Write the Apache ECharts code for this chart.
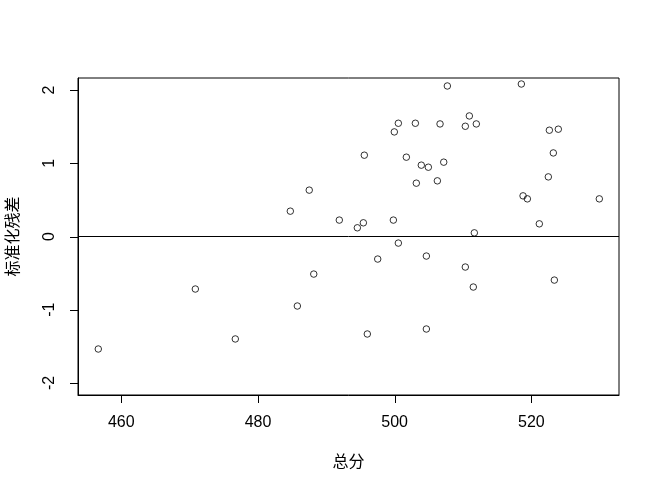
<!DOCTYPE html>
<html>
<head>
<meta charset="utf-8">
<script src="https://cdn.jsdelivr.net/npm/echarts@6/dist/echarts.min.js"></script>
<style>html,body{margin:0;padding:0;background:#fff}#c{width:660px;height:493px}</style>
</head>
<body>
<div id="c"></div>
<script>
var totalScore = [487.5, 484.73, 491.9,
  507.71, 518.54, 510.93, 500.54, 503.03, 506.64, 510.34, 511.95, 499.95, 522.64,
  523.95, 523.22, 495.56, 501.71, 503.9, 504.93, 507.18, 503.17, 506.25, 522.49,
  518.79, 519.42, 529.95, 494.54, 495.42, 499.81, 521.17, 511.66,
  456.63, 470.83, 476.68, 485.76, 488.16,
  500.54, 497.52, 504.64, 510.34, 511.51, 523.37, 496.0, 504.64];
var stdResid = [0.633, 0.346, 0.224,
  2.055, 2.082, 1.646, 1.546, 1.546, 1.537, 1.505, 1.537, 1.428, 1.451,
  1.465, 1.141, 1.110, 1.083, 0.974, 0.946, 1.015, 0.728, 0.760, 0.814,
  0.555, 0.514, 0.514, 0.119, 0.187, 0.224, 0.173, 0.050,
  -1.536, -0.717, -1.399, -0.949, -0.513,
  -0.090, -0.308, -0.267, -0.417, -0.690, -0.595, -1.331, -1.263];
var xTicks = [460, 480, 500, 520];
var yTicks = [-2, -1, 0, 1, 2];
var xTitle = '总分';
var yTitle = '标准化残差';

var X_MIN = 453.66, X_MAX = 532.83, Y_MIN = -2.164, Y_MAX = 2.164, TICK_LEN = 8;
var pts = totalScore.map(function (v, i) { return [v, stdResid[i]]; });
var chart = echarts.init(document.getElementById('c'), null, {renderer: 'canvas'});
var labelFont = {fontFamily: 'Liberation Sans, Arial, sans-serif', fontSize: 16, color: '#000'};
var nameFont = {fontFamily: 'Noto Sans CJK SC, sans-serif', fontSize: 16, color: '#000'};

function xTickRender(params, api) {
  var cs = params.coordSys;
  var px = Math.round(api.coord([api.value(0), 0])[0]) + 0.5;
  var y0 = cs.y + cs.height;
  return {type: 'line', shape: {x1: px, y1: y0, x2: px, y2: y0 + TICK_LEN},
    style: {stroke: '#000', lineWidth: 1}};
}
function yTickRender(params, api) {
  var cs = params.coordSys;
  var py = Math.round(api.coord([X_MIN, api.value(1)])[1]) + 0.5;
  var x0 = cs.x;
  return {type: 'line', shape: {x1: x0 - TICK_LEN, y1: py, x2: x0, y2: py},
    style: {stroke: '#000', lineWidth: 1}};
}

chart.setOption({
  animation: false,
  backgroundColor: '#fff',
  grid: {left: 78, top: 78, right: 41, bottom: 98, containLabel: false, outerBoundsMode: 'none',
    show: true, borderColor: '#000', borderWidth: 1, backgroundColor: 'transparent'},
  xAxis: {
    type: 'value', min: X_MIN, max: X_MAX,
    name: xTitle, nameLocation: 'middle', nameGap: 58, nameTextStyle: nameFont,
    axisLine: {show: true, onZero: false, lineStyle: {color: '#000', width: 1}},
    splitLine: {show: false},
    axisTick: {show: false},
    axisLabel: Object.assign({margin: 20, customValues: xTicks}, labelFont)
  },
  yAxis: {
    type: 'value', min: Y_MIN, max: Y_MAX,
    name: yTitle, nameLocation: 'middle', nameGap: 58, nameRotate: 90, nameTextStyle: nameFont,
    axisLine: {show: true, onZero: false, lineStyle: {color: '#000', width: 1}},
    splitLine: {show: false},
    axisTick: {show: false},
    axisLabel: Object.assign({margin: 20, rotate: 90, customValues: yTicks}, labelFont)
  },
  series: [{
    type: 'scatter',
    data: pts,
    symbol: 'circle',
    symbolSize: 6.5,
    itemStyle: {color: 'rgba(255,255,255,0)', borderColor: '#000', borderWidth: 1},
    markLine: {
      silent: true, symbol: ['none', 'none'], label: {show: false},
      lineStyle: {color: '#000', type: 'solid', width: 1},
      data: [{yAxis: 0}]
    }
  }, {
    type: 'custom', silent: true, clip: false,
    data: xTicks.map(function (v) { return [v, 0]; }),
    renderItem: xTickRender
  }, {
    type: 'custom', silent: true, clip: false,
    data: yTicks.map(function (v) { return [X_MIN, v]; }),
    renderItem: yTickRender
  }]
});
</script>
</body>
</html>
